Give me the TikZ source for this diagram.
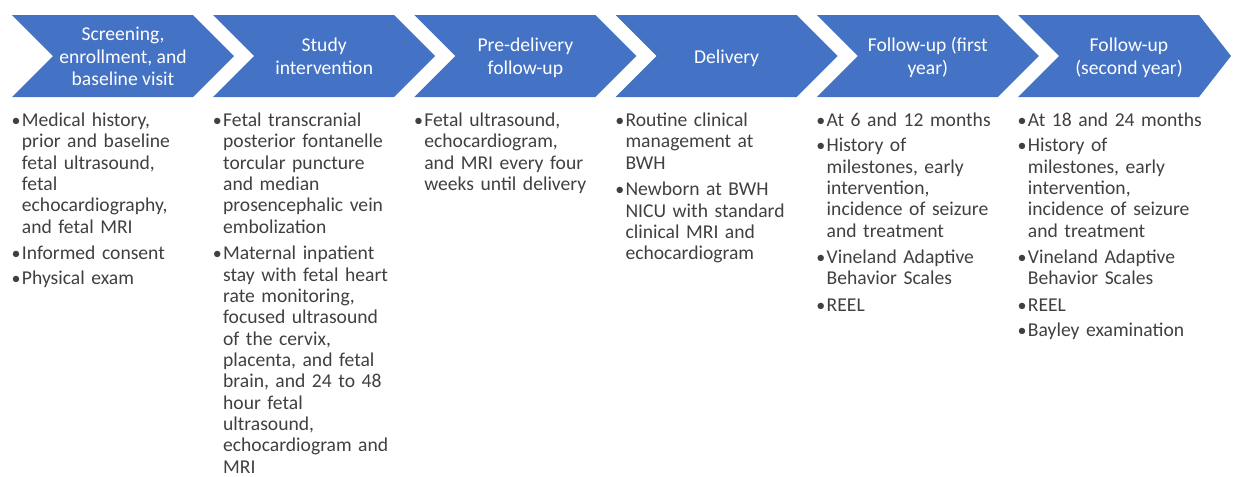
\documentclass[tikz,border=0pt]{standalone}
\usepackage{fontspec}
\setmainfont{Carlito}
\definecolor{chev}{HTML}{4472C4}
\definecolor{bodytxt}{HTML}{404040}
% bullet glyph set in its own box
\newcommand\bul{\makebox[8pt][l]{\hspace{0.3pt}{\fontsize{13.5}{13.5}\selectfont\textbullet}}}
% one bullet item; its lines, broken by hand with \\, stand in a column beside the bullet
\newcommand\itm[1]{\par\noindent\bul\begin{tabular}[t]{@{}l@{}}#1\end{tabular}\par\vspace{2.8pt}}
\begin{document}
\begin{tikzpicture}[x=0.75pt,y=-0.75pt,
  chevron/.style={fill=chev},
  head/.style={text=white,font=\fontsize{14.7}{16.9}\selectfont,align=center,inner sep=0pt,anchor=center},
  list/.style={text=bodytxt,font=\fontsize{14.7}{16}\selectfont,text width=190pt,align=left,inner sep=0pt,anchor=north west}]
\useasboundingbox (0,0) rectangle (1233,476);
% process chevrons
\foreach \i in {0,...,4}{
  \pgfmathsetmacro\xa{12+201.2*\i}
  \fill[chevron] (\xa,15) -- ++(181,0) -- ++(41,41) -- ++(-41,41) -- ++(-181,0) -- ++(41,-41) -- cycle;
}
\fill[chevron] (1018,15) -- (1199,15) -- (1231,56) -- (1199,97) -- (1018,97) -- (1059,56) -- cycle;
% stage titles
\node[head] (h1) at (123,58.5)   {\strut Screening,\\enrollment, and\\baseline visit\strut};
\node[head] (h2) at (324.2,58.5) {\strut Study\\intervention\strut};
\node[head] (h3) at (525.4,58.5) {\strut Pre-delivery\\follow-up\strut};
\node[head] (h4) at (726.6,58.5) {\strut Delivery\strut};
\node[head] (h5) at (927.8,58.5) {\strut Follow-up (first\\year)\strut};
\node[head] (h6) at (1129,58.5)  {\strut Follow-up\\(second year)\strut};
% activities under each stage
\node[list] (b1) at (11,105) {%
  \itm{Medical history,\\prior and baseline\\fetal ultrasound,\\fetal\\echocardiography,\\and fetal MRI}%
  \itm{Informed consent}%
  \itm{Physical exam}};
\node[list] (b2) at (212.2,105) {%
  \itm{Fetal transcranial\\posterior fontanelle\\torcular puncture\\and median\\prosencephalic vein\\embolization}%
  \itm{Maternal inpatient\\stay with fetal heart\\rate monitoring,\\focused ultrasound\\of the cervix,\\placenta, and fetal\\brain, and 24 to 48\\hour fetal\\ultrasound,\\echocardiogram and\\MRI}};
\node[list] (b3) at (413.4,105) {%
  \itm{Fetal ultrasound,\\echocardiogram,\\and MRI every four\\weeks until delivery}};
\node[list] (b4) at (614.6,105) {%
  \itm{Routine clinical\\management at\\BWH}%
  \itm{Newborn at BWH\\NICU with standard\\clinical MRI and\\echocardiogram}};
\node[list] (b5) at (815.8,105) {%
  \itm{At 6 and 12 months}%
  \itm{History of\\milestones, early\\intervention,\\incidence of seizure\\and treatment}%
  \itm{Vineland Adaptive\\Behavior Scales}%
  \itm{REEL}};
\node[list] (b6) at (1017,105) {%
  \itm{At 18 and 24 months}%
  \itm{History of\\milestones, early\\intervention,\\incidence of seizure\\and treatment}%
  \itm{Vineland Adaptive\\Behavior Scales}%
  \itm{REEL}%
  \itm{Bayley examination}};
\end{tikzpicture}
\end{document}
